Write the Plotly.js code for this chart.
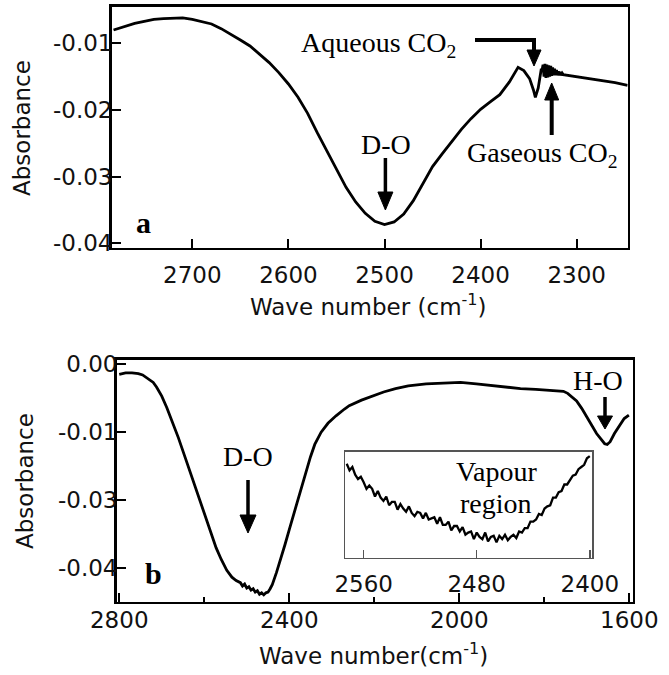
<!DOCTYPE html>
<html>
<head>
<meta charset="utf-8">
<script src="https://cdn.plot.ly/plotly-3.0.1.min.js"></script>
<style>html,body{margin:0;padding:0;background:#fff;}#chart{width:669px;height:675px;}</style>
</head>
<body>
<div id="chart"></div>
<script>
// ---------- Panel a data ----------
const waveA = [2782,2770,2760,2750,2740,2730,2720,2710,2700,2690,2680,2670,2660,2650,2640,2630,2620,2610,2600,2590,2580,2570,2560,2550,2540,2530,2520,2510,2500,2490,2480,2470,2460,2450,2440,2430,2420,2410,2400,2390,2380,2370,2361,2355,2349,2345,2343,2340,2337,
  2336,2335,2334,2333,2332,2331,2330,2329,2328,2327,2326,2325,2324,2323,2322,2321,2320,2319,2318,2317,2316,2315,2314,2300,2280,2260,2247];
const absA = [-0.0080,-0.0074,-0.0070,-0.0067,-0.0064,-0.0063,-0.0062,-0.0062,-0.0064,-0.0067,-0.0071,-0.0078,-0.0086,-0.0095,-0.0104,-0.0116,-0.0129,-0.0144,-0.0161,-0.0181,-0.0205,-0.0234,-0.0262,-0.0290,-0.0316,-0.0338,-0.0355,-0.0367,-0.0372,-0.0368,-0.0356,-0.0336,-0.0310,-0.0285,-0.0266,-0.0247,-0.0229,-0.0213,-0.0199,-0.0188,-0.0177,-0.0158,-0.0136,-0.0141,-0.0153,-0.0170,-0.0181,-0.0167,-0.0140,
  -0.0140,-0.0132,-0.0150,-0.0131,-0.0152,-0.0132,-0.0151,-0.0133,-0.0150,-0.0134,-0.0149,-0.0136,-0.0148,-0.0138,-0.0148,-0.0140,-0.0148,-0.0142,-0.0148,-0.0143,-0.0148,-0.0145,-0.0147,-0.0150,-0.0154,-0.0159,-0.0163];

// ---------- Panel b data ----------
const waveB = [2800,2785,2770,2755,2745,2730,2720,2712,2700,2688,2675,2661,2645,2630,2615,2600,2586,2572,2560,2547,2535,2525,2515,2510,2505,2500,2495,2490,2485,2480,2475,2470,2465,2460,2455,2450,2445,2440,2430,2420,2410,2400,2390,2380,2370,2360,2350,2340,2325,2309,2290,2270,2259,2230,2200,2178,2150,2120,2078,2040,1997,1960,1926,1890,1856,1820,1790,1770,1755,1745,1735,1724,1712,1700,1688,1677,1667,1658,1652,1645,1635,1623,1612,1601];
const absB = [-0.0015,-0.0013,-0.0013,-0.0014,-0.0016,-0.0022,-0.0027,-0.0034,-0.0047,-0.0064,-0.0085,-0.0108,-0.0137,-0.0165,-0.0193,-0.0218,-0.0245,-0.0270,-0.0287,-0.0303,-0.0313,-0.0318,-0.0321,-0.0326,-0.0323,-0.0329,-0.0327,-0.0332,-0.0330,-0.0335,-0.0333,-0.0338,-0.0336,-0.0339,-0.0336,-0.0335,-0.0330,-0.0324,-0.0306,-0.0287,-0.0265,-0.0243,-0.0222,-0.0200,-0.0177,-0.0156,-0.0136,-0.0118,-0.0100,-0.0087,-0.0076,-0.0066,-0.0061,-0.0053,-0.0046,-0.0041,-0.0036,-0.0032,-0.0029,-0.0028,-0.0027,-0.0029,-0.0031,-0.0034,-0.0036,-0.0037,-0.0038,-0.0039,-0.0040,-0.0043,-0.0048,-0.0054,-0.0065,-0.0078,-0.0091,-0.0102,-0.0110,-0.0117,-0.0118,-0.0114,-0.0102,-0.0090,-0.0080,-0.0075];

// ---------- Inset (vapour region) data ----------
const waveInset = [2572,2570,2568,2566,2564,2562,2560,2558,2556,2554,2552,2550,2548,2546,2544,2542,2540,2538,2536,2534,2532,2530,2528,2526,2524,2522,2520,2518,2516,2514,2512,2510,2508,2506,2504,2502,2500,2498,2496,2494,2492,2490,2488,2486,2484,2482,2480,2478,2476,2474,2472,2470,2468,2466,2464,2462,2460,2458,2456,2454,2452,2450,2448,2446,2444,2442,2440,2438,2436,2434,2432,2430,2428,2426,2424,2422,2420,2418,2416,2414,2412,2410,2408,2406,2404,2402,2400];
const absInset = [-0.0269,-0.0275,-0.0272,-0.0279,-0.0283,-0.0281,-0.0286,-0.0292,-0.0289,-0.0292,-0.0299,-0.0294,-0.0300,-0.0303,-0.0299,-0.0307,-0.0304,-0.0304,-0.0311,-0.0306,-0.0310,-0.0313,-0.0308,-0.0314,-0.0317,-0.0313,-0.0314,-0.0319,-0.0314,-0.0320,-0.0319,-0.0318,-0.0324,-0.0318,-0.0325,-0.0325,-0.0322,-0.0330,-0.0326,-0.0326,-0.0331,-0.0327,-0.0334,-0.0332,-0.0331,-0.0338,-0.0332,-0.0336,-0.0338,-0.0332,-0.0340,-0.0336,-0.0335,-0.0341,-0.0335,-0.0338,-0.0334,-0.0339,-0.0336,-0.0334,-0.0337,-0.0331,-0.0332,-0.0328,-0.0328,-0.0322,-0.0322,-0.0320,-0.0315,-0.0316,-0.0310,-0.0308,-0.0307,-0.0300,-0.0300,-0.0295,-0.0294,-0.0288,-0.0288,-0.0284,-0.0280,-0.0279,-0.0274,-0.0272,-0.0270,-0.0264,-0.0262];

// ---------- Tick labels ----------
const ticksAx = [2700,2600,2500,2400,2300];
const ticksAxText = ['2700','2600','2500','2400','2300'];
const ticksAy = [-0.01,-0.02,-0.03,-0.04];
const ticksAyText = ['-0.01','-0.02','-0.03','-0.04'];
const ticksBx = [2800,2400,2000,1600];
const ticksBxText = ['2800','2400','2000','1600'];
const ticksBxMinor = [2600,2200,1800];
const ticksBy = [0,-0.01,-0.02,-0.03];
const ticksByText = ['0.00','-0.01','-0.03','-0.04'];
const ticksInset = [2560,2480,2400];
const ticksInsetText = ['2560','2480','2400'];

const W = 669, H = 675;
const px = x => x / W;
const py = y => 1 - y / H;

const sans = {family: 'DejaVu Sans, sans-serif', size: 23, color: '#111'};
const serif = {family: 'Liberation Serif, Times New Roman, serif', size: 28, color: '#000'};

const line = {color: '#000', width: 2.8};
const traces = [
  {x: waveA, y: absA, xaxis: 'x', yaxis: 'y', mode: 'lines', line: line, hoverinfo: 'skip'},
  {x: waveB, y: absB, xaxis: 'x2', yaxis: 'y2', mode: 'lines', line: line, hoverinfo: 'skip'},
  {x: waveInset, y: absInset, xaxis: 'x3', yaxis: 'y3', mode: 'lines', line: {color: '#000', width: 2.3}, hoverinfo: 'skip'}
];

const frame = {showline: true, mirror: true, linecolor: '#000', linewidth: 2.6, showgrid: false, zeroline: false,
  ticks: 'inside', tickcolor: '#000', tickwidth: 2, ticklen: 9, tickfont: sans};

function seg(x1, y1, x2, y2, w) {
  return {type: 'line', xref: 'paper', yref: 'paper', x0: px(x1), y0: py(y1), x1: px(x2), y1: py(y2), line: {color: '#000', width: w}};
}
function head(x, yBase, yTip, half) {
  return {type: 'path', xref: 'paper', yref: 'paper',
    path: `M ${px(x - half)} ${py(yBase)} L ${px(x + half)} ${py(yBase)} L ${px(x)} ${py(yTip)} Z`,
    fillcolor: '#000', line: {color: '#000', width: 1}};
}
const shapes = [
  // Aqueous CO2 arrow (L-shaped)
  seg(475, 40, 536, 40, 4), seg(534, 38.5, 534, 52, 4), head(534, 50, 66, 7),
  // Gaseous CO2 arrow
  seg(551.7, 98, 551.7, 135, 4), head(551.7, 100, 83, 7),
  // D-O arrow (a)
  seg(385.4, 158, 385.4, 195, 3.5), head(385.4, 192, 210, 7.5),
  // D-O arrow (b)
  seg(248, 480, 248, 517, 3.5), head(248, 515, 533, 8),
  // H-O arrow
  seg(605, 397, 605, 418, 3.5), head(605, 416, 429, 7.5)
];

function txt(x, y, text, font, extra) {
  return Object.assign({xref: 'paper', yref: 'paper', x: px(x), y: py(y), text: text, showarrow: false,
    xanchor: 'center', yanchor: 'middle', font: font}, extra || {});
}
const annotations = [
  txt(378, 44, 'Aqueous CO<sub>2</sub>', serif),
  txt(542, 154, 'Gaseous CO<sub>2</sub>', serif),
  txt(386, 145, 'D-O', serif),
  txt(248, 457, 'D-O', serif),
  txt(598, 380, 'H-O', serif),
  txt(497, 471, 'Vapour', serif),
  txt(496, 503, 'region', serif),
  txt(143, 222, '<b>a</b>', Object.assign({}, serif, {size: 30})),
  txt(153, 573, '<b>b</b>', Object.assign({}, serif, {size: 30})),
  txt(22, 128, 'Absorbance', sans, {textangle: -90}),
  txt(25, 481, 'Absorbance', sans, {textangle: -90}),
  txt(368, 305, 'Wave number (cm<sup>-1</sup>)', sans),
  txt(373, 654, 'Wave number(cm<sup>-1</sup>)', sans)
];

const layout = {
  width: W, height: H, margin: {l: 0, r: 0, t: 0, b: 0}, showlegend: false,
  paper_bgcolor: '#fff', plot_bgcolor: 'rgba(0,0,0,0)',
  xaxis: Object.assign({}, frame, {domain: [px(111.7), px(627.7)], range: [2783.9, 2246.9], anchor: 'y',
    tickvals: ticksAx, ticktext: ticksAxText, ticklabelstandoff: 5}),
  yaxis: Object.assign({}, frame, {domain: [py(247.7), py(6.7)], range: [-0.04066, -0.00451], anchor: 'x',
    tickvals: ticksAy, ticktext: ticksAyText, ticklabelstandoff: -8}),
  xaxis2: Object.assign({}, frame, {domain: [px(116.7), px(632.7)], range: [2806, 1592], anchor: 'y2',
    tickvals: ticksBx, ticktext: ticksBxText, ticklabelstandoff: -4,
    minor: {tickvals: ticksBxMinor, ticks: 'inside', ticklen: 5, tickwidth: 2, tickcolor: '#000'}}),
  yaxis2: Object.assign({}, frame, {domain: [py(601.7), py(360)], range: [-0.0349, 0.0006], anchor: 'x2',
    tickvals: ticksBy, ticktext: ticksByText, ticklabelstandoff: -8}),
  xaxis3: Object.assign({}, frame, {domain: [px(345.3), px(591.9)], range: [2573, 2398.5], anchor: 'y3',
    linecolor: '#555', linewidth: 1.6, tickcolor: '#555', tickwidth: 1.5, ticklen: 8,
    tickvals: ticksInset, ticktext: ticksInsetText, ticklabelstandoff: 5}),
  yaxis3: Object.assign({}, frame, {domain: [py(557.7), py(451.7)], range: [-0.0355, -0.0258], anchor: 'x3',
    linecolor: '#555', linewidth: 1.6, ticks: '', showticklabels: false}),
  shapes: shapes,
  annotations: annotations
};

Plotly.newPlot('chart', traces, layout, {staticPlot: true, displayModeBar: false});
</script>
</body>
</html>
